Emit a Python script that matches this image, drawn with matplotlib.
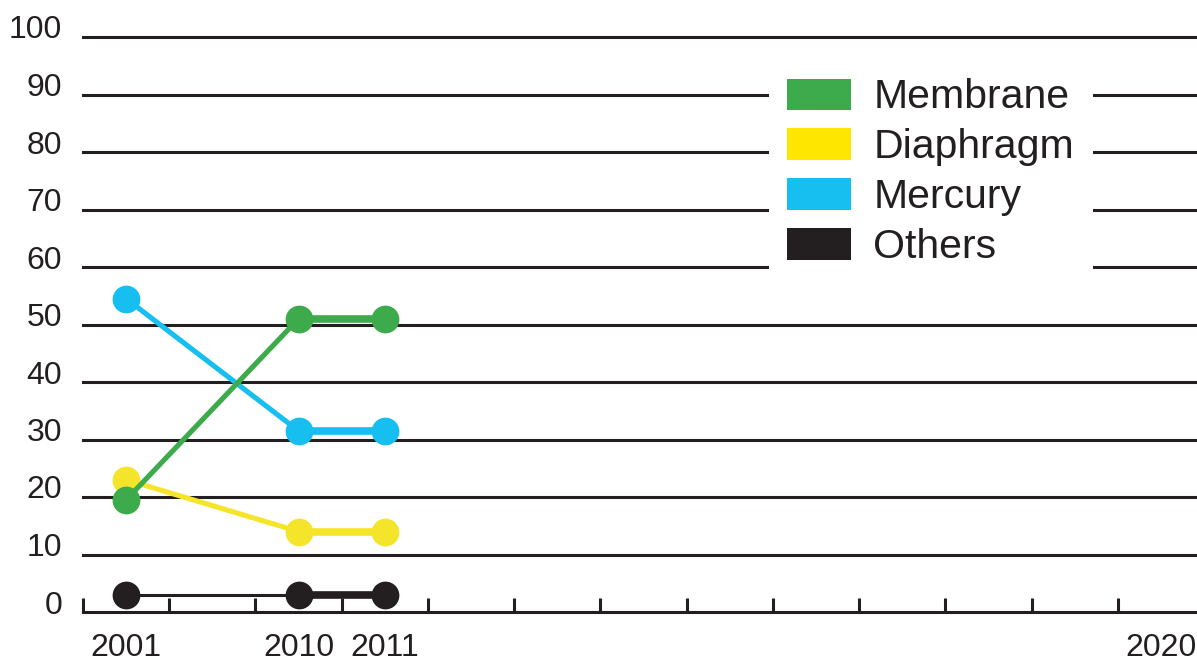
import matplotlib
matplotlib.use("Agg")
import matplotlib.pyplot as plt
from matplotlib.patches import Patch
from matplotlib.transforms import ScaledTranslation

plt.rcParams['font.family'] = ['Liberation Sans', 'DejaVu Sans']

# ---- data ----
slot_labels = ['2001', '', '2010', '2011', '', '', '', '', '', '', '', '', '2020']
years = ['2001', '2010', '2011']
membrane = [19.5, 51, 51]
diaphragm = [23, 14, 14]
mercury = [54.5, 31.5, 31.5]
others = [3, 3, 3]
series_names = ['Membrane', 'Diaphragm', 'Mercury', 'Others']
line_colors = ['#3dab4b', '#f5e52a', '#16bff0', '#231f20']
legend_colors = ['#3dab4b', '#ffe600', '#16bff0', '#231f20']
y_ticks = [0, 10, 20, 30, 40, 50, 60, 70, 80, 90, 100]

ink = '#231f20'

fig = plt.figure(figsize=(11.97, 6.63), dpi=100)
ax = fig.add_axes([83/1197, 1 - 612/663, 1121/1197, 575/663])

x = [slot_labels.index(y) for y in years]
data = {'Membrane': membrane, 'Diaphragm': diaphragm, 'Mercury': mercury, 'Others': others}

draw_order = ['Others', 'Diaphragm', 'Mercury', 'Membrane']
for k, name in enumerate(draw_order):
    i = series_names.index(name)
    vals = data[name]
    c = line_colors[i]
    lw = 2.2 if name == 'Others' else 3.7
    ax.plot(x, vals, color=c, lw=lw, solid_capstyle='butt', zorder=5 + k, clip_on=False)
    ax.plot(x[1:], vals[1:], color=c, lw=5.5, solid_capstyle='butt', zorder=5 + k, clip_on=False)
    ax.plot(x, vals, linestyle='none', marker='o', ms=20, color=c, mec='none',
            zorder=5 + k, clip_on=False)

ax.set_xlim(-0.5, len(slot_labels) - 0.5)
ax.set_ylim(0, 100)

for s in ['top', 'right', 'left']:
    ax.spines[s].set_visible(False)
ax.spines['bottom'].set_color(ink)
ax.spines['bottom'].set_linewidth(2.2)

for yv in y_ticks[1:]:
    ax.axhline(yv, color=ink, lw=2.2, zorder=1, clip_on=False)

ax.set_yticks(y_ticks)
ax.set_yticklabels([str(v) for v in y_ticks])
ax.tick_params(axis='y', length=0, pad=15, labelsize=23, labelcolor=ink)
shift = ScaledTranslation(0, 10/100, fig.dpi_scale_trans)
for lab in ax.get_yticklabels():
    lab.set_transform(lab.get_transform() + shift)

ax.set_xticks(range(len(slot_labels)))
ax.set_xticklabels(slot_labels)
ax.tick_params(axis='x', which='major', length=0, pad=15, labelsize=23, labelcolor=ink)
ax.set_xticks([i - 0.5 for i in range(len(slot_labels))], minor=True)
ax.tick_params(axis='x', which='minor', direction='in', length=10, width=2.2, color=ink)

handles = [Patch(facecolor=legend_colors[i], edgecolor='none') for i in range(len(series_names))]
leg = ax.legend(handles, series_names, loc='upper left',
                bbox_to_anchor=(769/1197, 1 - 60/663), bbox_transform=fig.transFigure,
                fontsize=29.5, frameon=True, fancybox=False, framealpha=1,
                facecolor='white', edgecolor='none', handlelength=1.54, handleheight=0.8,
                handletextpad=0.56, labelspacing=0.29, borderpad=0.45, borderaxespad=0)
leg.set_zorder(20)
for t in leg.get_texts():
    t.set_color(ink)

fig.savefig('out.png', dpi=100)
